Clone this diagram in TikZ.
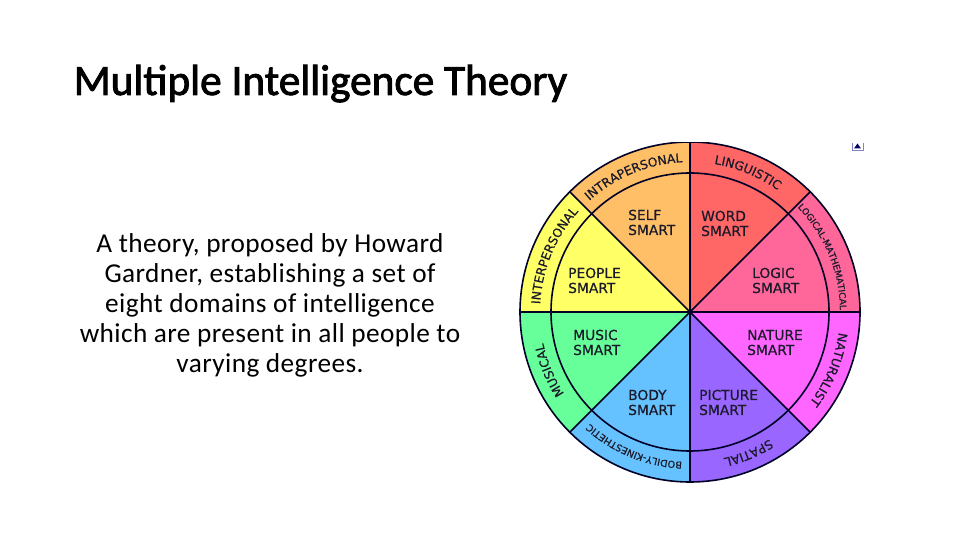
\documentclass[tikz,border=0pt]{standalone}
\usepackage{fontspec}
\usetikzlibrary{decorations.text}
\setmainfont{Carlito}
\newfontfamily\titlefont[FakeBold=2]{Carlito}
\newfontfamily\bodyfont[LetterSpace=1.5]{Carlito}
\newfontfamily\wheelfam[FakeBold=0.6]{DejaVu Sans}
\definecolor{ink}{HTML}{1A1A2A}
\definecolor{cSelf}{HTML}{FFBF66}
\definecolor{cPeople}{HTML}{FFFF66}
\definecolor{cMusic}{HTML}{66FF99}
\definecolor{cBody}{HTML}{66C2FF}
\definecolor{cPicture}{HTML}{9966FF}
\definecolor{cNature}{HTML}{FF66FF}
\definecolor{cLogic}{HTML}{FF6699}
\definecolor{cWord}{HTML}{FF6666}
\tikzset{
  inner/.style={inner sep=0pt,anchor=base west,align=left,font=\wheelfam\fontsize{13.8}{15}\selectfont,text=ink},
  wedgeline/.style={draw=black!85!blue,line width=1.6pt},
  bandtext/.style={decorate,decoration={text along path,text align=center,text={#1}}}
}
\newcommand{\wfont}{\wheelfam\fontsize{12.3}{14}\selectfont\color{ink}}
\newcommand{\wsmall}{\wheelfam\fontsize{9.6}{10}\selectfont\color{ink}}
\newcommand{\wlogic}{\wheelfam\fontsize{9}{10}\selectfont\color{ink}}
\newcommand{\sector}[3]{\fill[#3] (ctr) -- (#1:170) arc[start angle=#1,end angle=#2,radius=170] -- cycle;}
\newcommand{\band}[3]{\path[bandtext={|#3|#2}] (#1+22.5:150) arc[start angle=#1+22.5,end angle=#1-22.5,radius=150];}
\begin{document}
\begin{tikzpicture}[x=1pt,y=1pt]
\useasboundingbox (0,0) rectangle (960,540);
\fill[white] (0,0) rectangle (960,540);
\node[font=\titlefont\fontsize{43.3}{50}\selectfont,anchor=base west,inner sep=0pt] (title) at (73.5,445) {Multiple Intelligence Theory};
\node[font=\bodyfont\fontsize{27.3}{30}\selectfont,align=center,inner sep=0pt] (body) at (270,235) {A theory, proposed by Howard\\Gardner, establishing a set of\\eight domains of intelligence\\which are present in all people to\\varying degrees.};
\begin{scope}
\clip (500,0) rectangle (880,397);
\begin{scope}[shift={(690,228)}]
\coordinate (ctr) at (0,0);
\sector{90}{135}{cSelf}
\sector{135}{180}{cPeople}
\sector{180}{225}{cMusic}
\sector{225}{270}{cBody}
\sector{270}{315}{cPicture}
\sector{315}{360}{cNature}
\sector{0}{45}{cLogic}
\sector{45}{90}{cWord}
\draw[wedgeline] (ctr) circle[radius=139];
\draw[wedgeline] (ctr) circle[radius=170];
\foreach \a in {0,45,...,315} \draw[wedgeline] (ctr) -- (\a:170);
\band{112.5}{INTRAPERSONAL}{\wfont}
\band{157.5}{INTERPERSONAL}{\wfont}
\band{202.5}{MUSICAL}{\wfont}
\band{247.5}{BODILY-KINESTHETIC}{\wsmall}
\band{292.5}{SPATIAL}{\wfont}
\band{337.5}{NATURALIST}{\wfont}
\band{22.5}{LOGICAL-MATHEMATICAL}{\wlogic}
\band{67.5}{LINGUISTIC}{\wfont}
\end{scope}
\end{scope}
\node[inner] (self) at (628,305) {SELF\\SMART};
\node[inner] (word) at (701,304) {WORD\\SMART};
\node[inner] (people) at (568,247) {PEOPLE\\SMART};
\node[inner] (logic) at (752,247) {LOGIC\\SMART};
\node[inner] (music) at (573,185) {MUSIC\\SMART};
\node[inner] (nature) at (747,185) {NATURE\\SMART};
\node[inner] (bodyl) at (628,125) {BODY\\SMART};
\node[inner] (picture) at (699,125) {PICTURE\\SMART};
\draw[blue!40!gray!70,line width=.8pt] (852,397) -- (852,389.5) -- (863,389.5) -- (863,397);
\fill[blue!40!black] (857.5,396.5) -- (854,391.5) -- (861,391.5) -- cycle;
\end{tikzpicture}
\end{document}
